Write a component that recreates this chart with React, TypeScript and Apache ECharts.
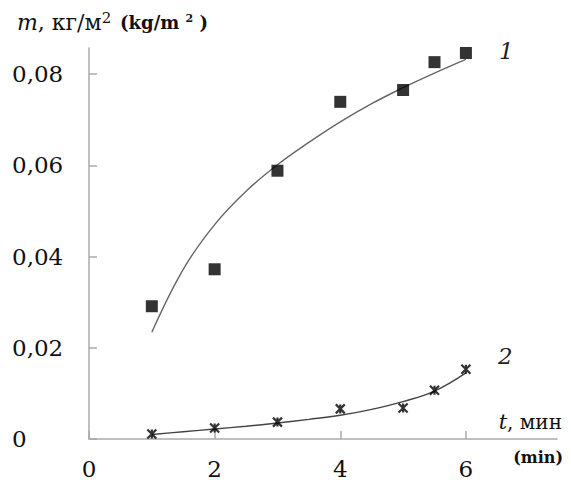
import React, { useEffect, useRef } from "react";
import * as echarts from "echarts";

const timeValues = [1, 2, 3, 4, 5, 5.5, 6];
const series1Values = [0.0291, 0.0372, 0.0588, 0.0739, 0.0765, 0.0826, 0.0846];
const series2Values = [0.0011, 0.0024, 0.0037, 0.0066, 0.0068, 0.0107, 0.0153];

const trendX = [1, 1.5, 2, 2.5, 3, 3.5, 4, 4.5, 5, 5.5, 6];
const trend1Values = [0.0234, 0.0372, 0.047, 0.0543, 0.0601, 0.065, 0.0695, 0.0735, 0.077, 0.0802, 0.0832];
const trend2Values = [0.001, 0.0016, 0.0022, 0.0028, 0.0035, 0.0043, 0.0052, 0.0065, 0.0082, 0.0105, 0.0145];

const serif = "DejaVu Serif";
const axisColor = "#aaaaaa";

export default function App() {
  const ref = useRef<HTMLDivElement>(null);
  useEffect(() => {
    document.body.style.margin = "0";
    const chart = echarts.init(ref.current!, null, { renderer: "svg" });
    const pairs = (xs: number[], ys: number[]) => xs.map((x, i) => [x, ys[i]]);
    chart.setOption({
      animation: false,
      backgroundColor: "#ffffff",
      textStyle: { fontFamily: serif },
      grid: { left: 89, right: 14, top: 48, bottom: 40 },
      xAxis: {
        type: "value",
        min: 0,
        max: 7.45,
        interval: 2,
        splitLine: { show: false },
        axisLine: { lineStyle: { color: axisColor, width: 1.5 } },
        axisTick: { inside: true, length: 8, lineStyle: { color: axisColor, width: 1.5 } },
        axisLabel: { color: "#111", fontFamily: serif, fontSize: 23, margin: 18, showMaxLabel: false },
      },
      yAxis: {
        type: "value",
        min: 0,
        max: 0.0857,
        interval: 0.02,
        splitLine: { show: false },
        axisLine: { show: true, lineStyle: { color: axisColor, width: 1.5 } },
        axisTick: { show: true, inside: true, length: 8, lineStyle: { color: axisColor, width: 1.5 } },
        axisLabel: {
          color: "#111",
          fontFamily: serif,
          fontSize: 23,
          align: "left",
          margin: 77,
          showMaxLabel: false,
          formatter: (v: number) => (v === 0 ? "0" : v.toFixed(2).replace(".", ",")),
        },
      },
      graphic: [
        {
          type: "text",
          left: 17,
          top: 10,
          style: {
            text: "{i|m}{r|, кг/м}{s|2}{sp|  }{b|(kg/m }{bs|2}{b| )}",
            fontFamily: serif,
            rich: {
              i: { fontFamily: serif, fontStyle: "italic", fontSize: 22, fill: "#111" },
              r: { fontFamily: serif, fontSize: 22, fill: "#111" },
              s: { fontFamily: serif, fontSize: 15, fill: "#111", padding: [0, 0, 10, 0] },
              sp: { fontFamily: serif, fontSize: 14 },
              b: { fontFamily: serif, fontWeight: "bold", fontSize: 18, fill: "#111" },
              bs: { fontFamily: serif, fontWeight: "bold", fontSize: 11, fill: "#111", padding: [0, 0, 8, 0] },
            },
          },
        },
        {
          type: "text",
          right: 9,
          top: 411,
          style: {
            text: "{i|t}{r|, мин}",
            fontFamily: serif,
            rich: {
              i: { fontFamily: serif, fontStyle: "italic", fontSize: 21, fill: "#111" },
              r: { fontFamily: serif, fontSize: 20, fill: "#111" },
            },
          },
        },
        {
          type: "text",
          right: 8,
          top: 449,
          style: { text: "(min)", fontFamily: serif, fontWeight: "bold", fontSize: 16, fill: "#111" },
        },
        {
          type: "text",
          left: 499,
          top: 39,
          style: { text: "1", fontFamily: serif, fontStyle: "italic", fontSize: 23, fill: "#222" },
        },
        {
          type: "text",
          left: 498,
          top: 344,
          style: { text: "2", fontFamily: serif, fontStyle: "italic", fontSize: 23, fill: "#222" },
        },
      ],
      series: [
        {
          type: "line",
          data: pairs(trendX, trend1Values),
          smooth: 0.4,
          showSymbol: false,
          lineStyle: { color: "#666", width: 1.4 },
          z: 1,
        },
        {
          type: "line",
          data: pairs(trendX, trend2Values),
          smooth: 0.4,
          showSymbol: false,
          lineStyle: { color: "#444", width: 1.4 },
          z: 1,
        },
        {
          type: "scatter",
          data: pairs(timeValues, series1Values),
          symbol: "rect",
          symbolSize: 12,
          itemStyle: { color: "#000" },
          z: 3,
        },
        {
          type: "scatter",
          data: pairs(timeValues, series2Values),
          symbol: "path://M0,0 L10,10 M10,0 L0,10 M5,0 L5,10",
          symbolSize: 9,
          itemStyle: { color: "transparent", borderColor: "#000", borderWidth: 2.2 },
          z: 3,
        },
      ],
    });
    return () => chart.dispose();
  }, []);
  return <div ref={ref} style={{ position: "fixed", left: 0, top: 0, width: 571, height: 480 }} />;
}
